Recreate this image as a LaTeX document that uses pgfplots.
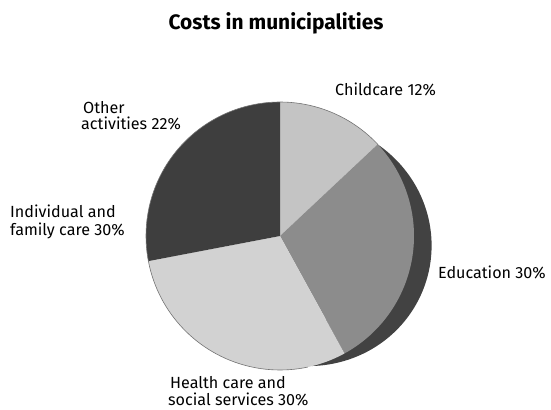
\documentclass[border=0pt]{standalone}
\usepackage{pgfplots}
\pgfplotsset{compat=1.18}
\usepackage{fontspec}
\setmainfont{Fira Sans}

% slice shares in percent, clockwise from 12 o'clock
\pgfmathsetmacro{\vChild}{13}
\pgfmathsetmacro{\vEdu}{29}
\pgfmathsetmacro{\vHealth}{30}
\pgfmathsetmacro{\vOther}{28}

\pgfmathsetmacro{\aA}{90}
\pgfmathsetmacro{\aB}{\aA-3.6*\vChild}
\pgfmathsetmacro{\aC}{\aB-3.6*\vEdu}
\pgfmathsetmacro{\aD}{\aC-3.6*\vHealth}
\pgfmathsetmacro{\aE}{\aD-3.6*\vOther}

\definecolor{cChild}{RGB}{196,196,196}
\definecolor{cEdu}{RGB}{140,140,140}
\definecolor{cHealth}{RGB}{210,210,210}
\definecolor{cOther}{RGB}{62,62,62}
\definecolor{cRim}{RGB}{66,66,66}

\newcommand{\slice}[3]{% from, to, colour
  \addplot[fill=#3, draw=none, domain=#1:#2, samples=80, variable=\t]
    ({280+134*cos(\t)}, {174+134*sin(\t)}) -- (axis cs:280,174) -- cycle;
}

\begin{document}
\begin{tikzpicture}
\useasboundingbox (0,0) rectangle (551bp,410bp);
\begin{axis}[
    at={(0,0)}, anchor=south west,
    width=551bp, height=410bp,
    scale only axis,
    xmin=0, xmax=551,
    ymin=0, ymax=410,
    hide axis,
    clip=false
]
    % visible thickness of the disc on the right
    \addplot[fill=cRim, draw=none, domain=-76:43, samples=100, variable=\t]
      ({280+(134+19*sin((43-\t)*180/119))*cos(\t)},
       {174+(134+19*sin((43-\t)*180/119))*sin(\t)}) -- cycle;
    % faces
    \slice{\aB}{\aA}{cChild}
    \slice{\aC}{\aB}{cEdu}
    \slice{\aD}{\aC}{cHealth}
    \slice{\aE}{\aD}{cOther}
    \addplot[draw=black!55, line width=0.6pt, domain=43:282, samples=120, variable=\t]
      ({280+134*cos(\t)}, {174+134*sin(\t)});

    \node[anchor=base, font=\fontsize{21}{24}\selectfont\bfseries] at (axis cs:276,381) {Costs in municipalities};

    \begin{scope}[every node/.style={anchor=base west, inner sep=0pt, font=\fontsize{16.2}{19}\selectfont}]
    \node at (axis cs:335,315) {Childcare 12\%};
    \node at (axis cs:83,297) {Other};
    \node at (axis cs:81,281) {activities 22\%};
    \node at (axis cs:10,193) {Individual and};
    \node at (axis cs:10,175) {family care 30\%};
    \node at (axis cs:438,132) {Education 30\%};
    \node at (axis cs:170,22) {Health care and};
    \node at (axis cs:168,5) {social services 30\%};
    \end{scope}
\end{axis}
\end{tikzpicture}
\end{document}
